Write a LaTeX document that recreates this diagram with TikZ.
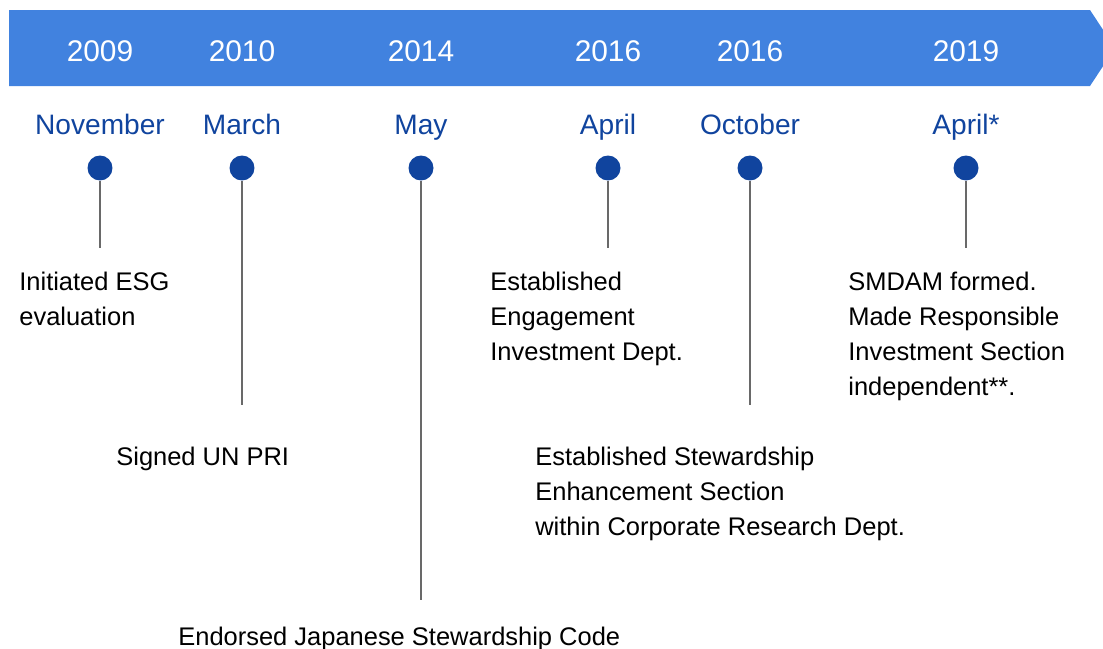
\documentclass[tikz,border=0pt]{standalone}
\usepackage{fontspec}
\setmainfont{Liberation Sans}
\definecolor{band}{RGB}{65,130,223}
\definecolor{navy}{RGB}{16,68,158}
\definecolor{stem}{RGB}{105,105,105}
\begin{document}
\begin{tikzpicture}[x=0.02cm,y=-0.02cm,
  year/.style={anchor=base,text=white,font=\fontsize{17}{20}\selectfont},
  month/.style={anchor=base,text=navy,font=\fontsize{16}{19}\selectfont},
  dot/.style={circle,fill=navy,inner sep=0,minimum size=0.5cm},
  event/.style={anchor=base west,align=left,inner sep=0,font=\fontsize{14.5}{19.9}\selectfont}]
\useasboundingbox (0,0) rectangle (1103,649);
% banner
\fill[band] (9,10) -- (1090,10) -- (1115,48) -- (1090,86) -- (9,86) -- cycle;
% years, months, dots and stems
\foreach \x/\yr/\mo/\e [count=\i] in {100/2009/November/248, 242/2010/March/405,
  421/2014/May/600, 608/2016/April/248, 750/2016/October/405, 966/2019/April*/248}{
  \node[year] (y\i) at (\x,61) {\yr};
  \node[month] (m\i) at (\x,134) {\mo};
  \node[dot] (d\i) at (\x,168) {};
  \coordinate (e\i) at (\x,\e);
  \draw[stem,line width=0.04cm] (d\i.south) -- (e\i);
}
% events (placed at baseline of last line)
\node[event] (t1) at (19,325) {Initiated ESG\\evaluation};
\node[event] (t2) at (116,465) {Signed UN PRI};
\node[event] (t3) at (178,645) {Endorsed Japanese Stewardship Code};
\node[event] (t4) at (490,360) {Established\\Engagement\\Investment Dept.};
\node[event] (t5) at (535,535) {Established Stewardship\\Enhancement Section\\within Corporate Research Dept.};
\node[event] (t6) at (848,395) {SMDAM formed.\\Made Responsible\\Investment Section\\independent**.};
\end{tikzpicture}
\end{document}
